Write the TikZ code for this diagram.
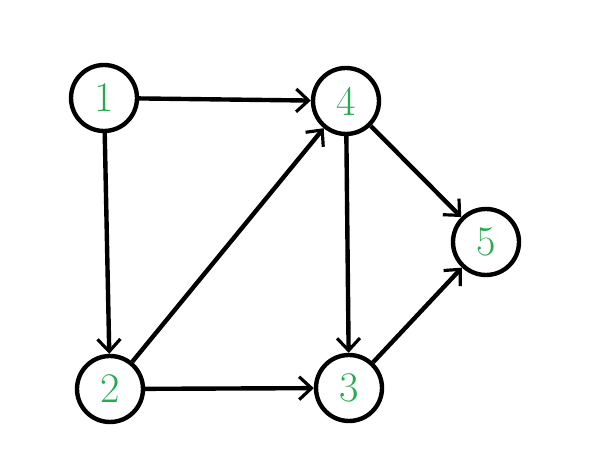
\documentclass[tikz,border=0pt]{standalone}
\usepackage{amsmath}
\usetikzlibrary{arrows.meta}
\definecolor{numgreen}{RGB}{40,170,80}
\begin{document}
\begin{tikzpicture}
\tikzset{vert/.style={circle, draw, line width=2.5pt, minimum size=1.32cm, inner sep=0pt, text=numgreen, font=\fontsize{24}{24}\selectfont},
  edge/.style={line width=2.5pt, -{Straight Barb[length=7pt, width=13pt, line width=1.8pt]}}}
\useasboundingbox (0,0) rectangle (11.8,-9.22);
\node[vert] (v1) at (2.08,-1.96) {1};\node[vert] (v4) at (6.92,-2.02) {4};\node[vert] (v5) at (9.72,-4.84) {5};
\node[vert] (v2) at (2.2,-7.78) {2};\node[vert] (v3) at (6.98,-7.76) {3};
\draw[edge] (v1) -- (v4);\draw[edge] (v1) -- (v2);\draw[edge] (v2) -- (v4);\draw[edge] (v2) -- (v3);
\draw[edge] (v4) -- (v3);\draw[edge] (v4) -- (v5);\draw[edge] (v3) -- (v5);
\end{tikzpicture}
\end{document}
